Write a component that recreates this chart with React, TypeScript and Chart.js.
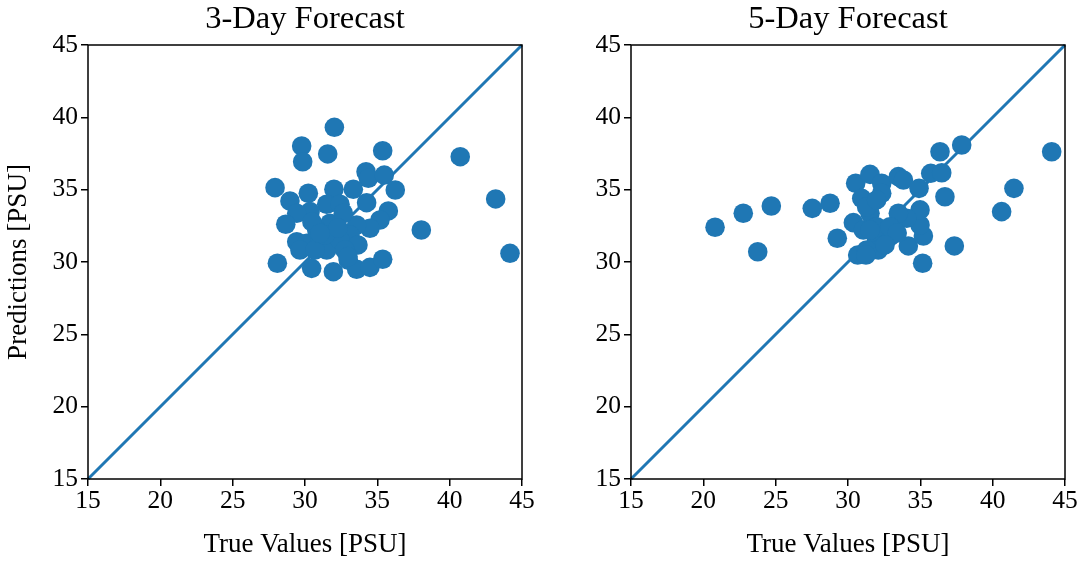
import React, { useEffect, useRef } from "react";
import { Chart, registerables } from "chart.js";

Chart.register(...registerables);

// ---- data ----
const AXIS_TICKS = [15, 20, 25, 30, 35, 40, 45];
const DIAGONAL = [15, 45];

const day3True = [
  32.03, 29.77, 29.84, 31.57, 35.37, 40.73, 34.22, 34.38, 35.48, 36.24,
  27.93, 30.23, 32.0, 33.34, 28.96, 31.5, 32.42, 34.26, 30.35, 29.43,
  28.67, 35.76, 35.18, 34.49, 33.57, 31.73, 33.11, 43.18, 44.17, 38.04,
  28.09, 30.46, 31.96, 32.99, 33.57, 34.49, 35.37, 29.43, 30.12, 31.04,
  31.96, 29.65, 31.5, 32.42, 30.81, 32.65, 33.66, 30.69, 32.76, 31.38,
  30.48, 32.28, 32.97, 31.04,
];
const day3Pred = [
  39.31, 38.02, 36.93, 37.47, 37.69, 37.28, 36.24, 35.79, 36.01, 34.98,
  35.14, 34.75, 35.03, 35.03, 34.22, 33.99, 33.99, 34.1, 33.48, 33.37,
  32.61, 33.53, 32.9, 32.33, 32.56, 32.68, 31.87, 34.36, 30.6, 32.21,
  29.91, 29.56, 29.33, 30.14, 29.5, 29.63, 30.19, 31.4, 31.29, 31.4,
  31.29, 30.83, 30.83, 31.52, 32.21, 33.37, 31.18, 30.83, 30.83, 31.87,
  32.77, 32.35, 30.37, 31.98,
];

const day5True = [
  20.81, 22.76, 24.7, 23.76, 27.53, 28.76, 29.26, 30.53, 31.52, 32.33,
  30.95, 32.33, 33.48, 33.83, 34.91, 35.72, 36.48, 36.36, 37.86, 36.7,
  44.08, 41.47, 40.62, 37.35, 35.16, 34.17, 35.21, 34.98, 34.98, 34.06,
  33.48, 30.67, 30.37, 31.52, 31.98, 32.9, 32.09, 31.29, 31.06, 31.98,
  32.9, 31.29, 31.98, 33.4, 31.52, 32.56, 31.24,
];
const day5Pred = [
  32.4, 33.37, 33.87, 30.71, 33.71, 34.06, 31.64, 35.44, 36.06, 35.44,
  34.4, 34.75, 35.9, 35.67, 35.09, 36.13, 36.17, 37.62, 38.09, 34.51,
  37.62, 35.09, 33.48, 31.11, 29.91, 31.11, 31.8, 32.56, 33.6, 33.02,
  33.37, 30.48, 32.72, 33.37, 31.52, 31.75, 30.83, 30.83, 32.21, 32.44,
  32.44, 33.82, 34.29, 32.0, 32.21, 31.18, 30.48,
];

// ---- styling ----
const BLUE = "#1f77b4";
const FONT = "'Liberation Serif', 'Times New Roman', serif";

const framePlugin = {
  id: "frame",
  afterDatasetsDraw(chart: any) {
    const { ctx, chartArea } = chart;
    const { left, top, right, bottom } = chartArea;
    ctx.save();
    ctx.strokeStyle = "#000";
    ctx.lineWidth = 1.5;
    ctx.strokeRect(left, top, right - left, bottom - top);
    ctx.restore();
  },
};

function makeConfig(
  title: string,
  xs: number[],
  ys: number[],
  yWidth: number,
  showYTitle: boolean,
  padRight: number
): any {
  const points = xs.map((x, i) => ({ x, y: ys[i] }));
  const diag = DIAGONAL.map((v) => ({ x: v, y: v }));
  const axisCommon = {
    type: "linear",
    min: AXIS_TICKS[0],
    max: AXIS_TICKS[AXIS_TICKS.length - 1],
    afterBuildTicks: (scale: any) => {
      scale.ticks = AXIS_TICKS.map((v) => ({ value: v }));
    },
    grid: {
      display: true,
      drawOnChartArea: false,
      drawTicks: true,
      tickLength: 7,
      color: "#000",
      lineWidth: 1.5,
    },
    border: { display: false },
    ticks: {
      color: "#000",
      font: { family: FONT, size: 25.5, lineHeight: 1.0 },
      padding: 3,
    },
  };
  const titleSize = 32.5;
  return {
    type: "scatter",
    data: {
      datasets: [
        {
          type: "scatter",
          data: points,
          backgroundColor: BLUE,
          borderWidth: 0,
          pointRadius: 9.8,
          pointHoverRadius: 9.8,
          order: 1,
        },
        {
          type: "line",
          data: diag,
          borderColor: BLUE,
          borderWidth: 3,
          pointRadius: 0,
          fill: false,
          order: 2,
        },
      ],
    },
    options: {
      animation: false,
      responsive: false,
      devicePixelRatio: 1,
      clip: false,
      layout: { padding: { left: 0, right: padRight, top: 0, bottom: 0 } },
      plugins: {
        legend: { display: false },
        tooltip: { enabled: false },
        title: {
          display: true,
          fullSize: false,
          text: title,
          color: "#000",
          font: { family: FONT, size: titleSize, weight: "normal", lineHeight: 1.2 },
          padding: { top: 0, bottom: 45 - titleSize * 1.2 },
        },
      },
      scales: {
        x: {
          ...axisCommon,
          position: "bottom",
          afterFit: (scale: any) => {
            scale.height = 84;
          },
          title: {
            display: true,
            text: "True Values [PSU]",
            color: "#000",
            font: { family: FONT, size: 27, lineHeight: 1.2 },
            padding: { top: 0, bottom: 2 },
          },
        },
        y: {
          ...axisCommon,
          position: "left",
          afterFit: (scale: any) => {
            scale.width = yWidth;
          },
          title: {
            display: showYTitle,
            text: "Predictions [PSU]",
            color: "#000",
            font: { family: FONT, size: 27, lineHeight: 1.2 },
            padding: { top: 3, bottom: 0 },
          },
        },
      },
    },
    plugins: [framePlugin],
  };
}

function Panel(props: {
  title: string;
  xs: number[];
  ys: number[];
  left: number;
  width: number;
  yWidth: number;
  showYTitle: boolean;
  padRight: number;
}) {
  const ref = useRef<HTMLCanvasElement | null>(null);
  useEffect(() => {
    if (!ref.current) return;
    const chart = new Chart(
      ref.current,
      makeConfig(props.title, props.xs, props.ys, props.yWidth, props.showYTitle, props.padRight)
    );
    return () => chart.destroy();
  }, []);
  return (
    <canvas
      ref={ref}
      width={props.width}
      height={563}
      style={{ position: "absolute", left: props.left, top: 0, width: props.width, height: 563 }}
    />
  );
}

export default function App() {
  useEffect(() => {
    document.body.style.margin = "0";
    document.body.style.background = "#fff";
  }, []);
  return (
    <div style={{ position: "relative", width: 1081, height: 563, background: "#fff", overflow: "hidden" }}>
      <Panel title="3-Day Forecast" xs={day3True} ys={day3Pred} left={0} width={540} yWidth={88} showYTitle={true} padRight={18} />
      <Panel title="5-Day Forecast" xs={day5True} ys={day5Pred} left={540} width={541} yWidth={91} showYTitle={false} padRight={16} />
    </div>
  );
}
